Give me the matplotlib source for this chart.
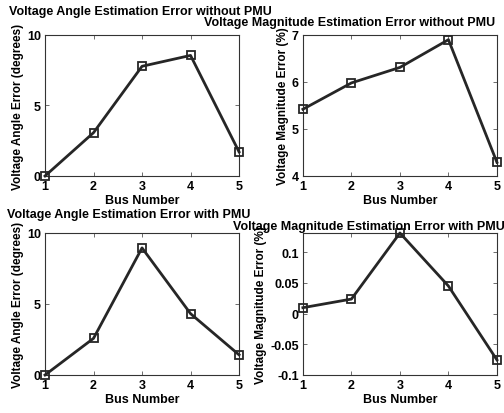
import numpy as np
import matplotlib
matplotlib.use('Agg')
import matplotlib.pyplot as plt

plt.rcParams['font.family'] = ['Liberation Sans', 'DejaVu Sans']
plt.rcParams['font.weight'] = 'bold'

#data
bus = [1, 2, 3, 4, 5]
angle_no_pmu = [0, 3.07, 7.78, 8.55, 1.71]
mag_no_pmu = [5.42, 5.98, 6.31, 6.90, 4.29]
angle_pmu = [0, 2.58, 8.95, 4.32, 1.42]
mag_pmu = [0.0095, 0.0235, 0.131, 0.0447, -0.0755]

fig = plt.figure(figsize=(5.04, 4.14), dpi=100)

# axes rectangles (left, bottom, width, height)
ax1 = fig.add_axes([0.0893, 0.5725, 0.385, 0.3406])
ax2 = fig.add_axes([0.601, 0.5725, 0.385, 0.3406])
ax3 = fig.add_axes([0.0893, 0.0918, 0.385, 0.343])
ax4 = fig.add_axes([0.601, 0.0918, 0.385, 0.343])

panels = [
    (ax1, angle_no_pmu, 'Voltage Angle Estimation Error without PMU',
     'Voltage Angle Error (degrees)', (0, 10), [0, 5, 10], ['0', '5', '10'], (9, 12)),
    (ax2, mag_no_pmu, 'Voltage Magnitude Estimation Error without PMU',
     'Voltage Magnitude Error (%)', (4, 7), [4, 5, 6, 7], ['4', '5', '6', '7'], (204, 23)),
    (ax3, angle_pmu, 'Voltage Angle Estimation Error with PMU',
     'Voltage Angle Error (degrees)', (0, 10), [0, 5, 10], ['0', '5', '10'], (7, 215)),
    (ax4, mag_pmu, 'Voltage Magnitude Estimation Error with PMU',
     'Voltage Magnitude Error (%)', (-0.1, 0.131), [-0.1, -0.05, 0, 0.05, 0.1],
     ['-0.1', '-0.05', '0', '0.05', '0.1'], (233, 227)),
]

for ax, vals, title, ylab, ylim, yt, ytl, tpos in panels:
    ax.plot(bus, vals, color='#262626', lw=2, marker='s', markersize=5.5,
            markerfacecolor='none', markeredgecolor='#262626', markeredgewidth=1.3,
            clip_on=False, zorder=3)
    ax.set_xlim(1, 5)
    ax.set_ylim(*ylim)
    ax.set_xticks(bus)
    ax.set_yticks(yt)
    ax.set_yticklabels(ytl)
    ax.tick_params(direction='in', top=True, right=True, labelsize=9, length=3,
                   width=0.6, color='#555555', pad=3)
    for s in ax.spines.values():
        s.set_color('#333333')
        s.set_linewidth(0.8)
    ax.set_xlabel('Bus Number', fontsize=9, fontweight='bold', labelpad=1)
    ax.set_ylabel(ylab, fontsize=8.5, fontweight='bold', labelpad=2)
    fig.text(tpos[0] / 504, 1 - tpos[1] / 414, title, fontsize=9, fontweight='bold',
             ha='left', va='center')

fig.savefig('out.png', dpi=100)
